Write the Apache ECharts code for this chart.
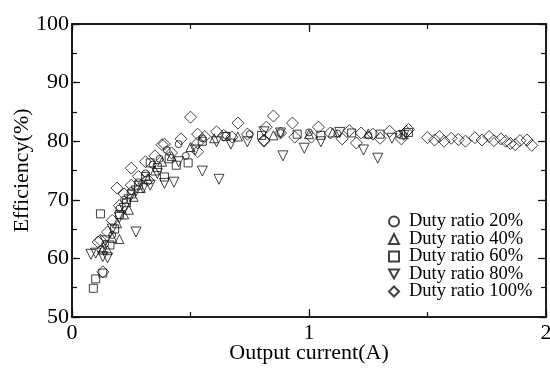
<!DOCTYPE html>
<html>
<head>
<meta charset="utf-8">
<script src="https://cdn.jsdelivr.net/npm/echarts@6/dist/echarts.min.js"></script>
<style>
html, body { margin: 0; padding: 0; background: #fff; }
#chart { width: 550px; height: 368px; }
</style>
</head>
<body>
<div id="chart"></div>
<script>
var seriesNames = ['Duty ratio 20%', 'Duty ratio 40%', 'Duty ratio 60%', 'Duty ratio 80%', 'Duty ratio 100%'];

var duty20 = [[0.12,61.5],[0.14,62.5],[0.17,64],[0.2,68.5],[0.22,70],[0.25,71.5],[0.28,73],[0.31,74.5],
    [0.34,76],[0.37,77],[0.4,78.5],[0.45,79.5],[0.48,77.5],[0.55,80.5],[0.65,81],[0.75,81.2],[0.88,81.4],
    [1.0,81.5],[1.12,81.3],[1.25,81],[1.38,81.2]];

var duty40 = [[0.13,61.5],[0.15,61.4],[0.17,63.5],[0.2,63.3],[0.19,66],[0.22,67.5],[0.24,68.3],[0.26,70.5],
    [0.29,72],[0.32,73.5],[0.35,75],[0.38,76.5],[0.42,77.5],[0.5,79],[0.6,80.5],[0.7,80.8],[0.85,81],
    [1.0,81.2],[1.1,81.5],[1.25,81.3],[1.4,81.2]];

var duty60 = [[0.09,54.9],[0.1,56.5],[0.12,67.6],[0.13,57.5],[0.16,62.3],[0.18,65],[0.2,67.5],[0.23,69.5],
    [0.25,71],[0.28,72.5],[0.31,74],[0.33,76.3],[0.36,75.5],[0.39,73.9],[0.41,77],[0.44,75.9],[0.49,76.3],
    [0.55,80],[0.65,80.8],[0.8,81],[0.95,81.2],[1.05,81],[1.18,81.4],[1.3,81.2],[1.42,81.5]];

var duty80 = [[0.08,60.7],[0.1,60.9],[0.13,60.3],[0.15,60.1],[0.14,63],[0.17,65],[0.2,67],[0.22,68.5],
    [0.24,70],[0.27,64.5],[0.27,71.5],[0.3,72],[0.33,72.5],[0.36,74.5],[0.39,72.8],[0.43,73],[0.45,76.5],
    [0.52,78.5],[0.55,74.9],[0.61,79.9],[0.62,73.5],[0.67,79.5],[0.74,79.9],[0.81,81.6],[0.89,77.5],
    [0.88,81.4],[0.98,78.8],[1.05,79.9],[1.13,81.5],[1.23,78.5],[1.29,77.1],[1.35,80.5],[1.4,81]];

var duty100 = [[0.11,62.8],[0.13,57.7],[0.12,63.1],[0.15,64.5],[0.17,66.5],[0.19,72],[0.2,69],[0.22,71],
    [0.25,75.4],[0.25,72.5],[0.28,74],[0.32,73.4],[0.31,76.5],[0.35,77.5],[0.38,79.4],[0.39,79.5],[0.42,78],
    [0.46,80.4],[0.5,84.1],[0.53,81.2],[0.53,79.7],[0.53,78.2],[0.56,80.8],[0.61,81.6],[0.64,81],[0.675,80.7],
    [0.7,83.1],[0.74,81.2],[0.81,80.2],[0.82,82.4],[0.81,80.0],[0.85,84.3],[0.88,81.4],[0.93,83.1],[0.94,80.7],
    [1.01,80.7],[1.04,82.4],[1.09,81.4],[1.14,80.4],[1.17,81.8],[1.2,79.7],[1.22,81.4],[1.27,81.2],[1.3,80.5],
    [1.34,81.7],[1.39,80.4],[1.41,81.6],[1.42,82],[1.5,80.6],[1.53,80.2],[1.55,80.8],[1.57,80.0],[1.6,80.5],
    [1.63,80.3],[1.66,80.0],[1.7,80.6],[1.73,80.2],[1.76,80.8],[1.78,80.1],[1.81,80.4],[1.83,80.0],[1.85,79.6],
    [1.87,79.4],[1.89,80.1],[1.92,80.2],[1.94,79.3]];

var font = 'Liberation Serif';
var ink = '#111';

function scatter(name, data, symbol, size, rotate) {
    return {
        name: name,
        type: 'scatter',
        data: data,
        symbol: symbol,
        symbolSize: size,
        symbolRotate: rotate || 0,
        itemStyle: {
            color: 'rgba(0,0,0,0)',
            borderColor: ink,
            borderWidth: 1
        },
        emphasis: { disabled: true }
    };
}

// one axis = one set of inward ticks; labels only on the main ones
function axis(min, max, interval, position, tickLen, extra) {
    var a = {
        type: 'value', min: min, max: max, interval: interval, position: position,
        axisLine: { show: true, onZero: false, lineStyle: { color: ink, width: 1.5 } },
        axisTick: { show: true, inside: true, length: tickLen, lineStyle: { color: ink, width: 1.2 } },
        splitLine: { show: false },
        axisLabel: { show: false }
    };
    for (var k in extra) a[k] = extra[k];
    return a;
}

var nameStyle = { color: '#000', fontFamily: font, fontSize: 22 };

var myChart = echarts.init(document.getElementById('chart'));
option = {
    animation: false,
    grid: { left: 72, right: 4, top: 24, bottom: 51, outerBoundsMode: 'none' },
    legend: {
        orient: 'vertical',
        left: 383,
        top: 207,
        itemWidth: 10,
        itemHeight: 10,
        itemGap: -1.5,
        data: [
            { name: seriesNames[0], icon: 'circle' },
            { name: seriesNames[1], icon: 'triangle' },
            { name: seriesNames[2], icon: 'rect' },
            { name: seriesNames[3], icon: 'path://M0,0 L10,0 L5,9 Z' },
            { name: seriesNames[4], icon: 'diamond' }
        ],
        textStyle: { color: '#000', fontFamily: font, fontSize: 18.5, lineHeight: 18, padding: [0, 0, 0, 5] }
    },
    xAxis: [
        axis(0, 2, 1, 'bottom', 8, {
            name: 'Output current(A)', nameLocation: 'middle', nameGap: 25, nameMoveOverlap: false,
            nameTextStyle: nameStyle,
            axisLabel: { show: true, color: '#000', fontFamily: font, fontSize: 22, margin: 5 }
        }),
        axis(0, 2, 1, 'top', 8),
        axis(0, 2, 0.5, 'bottom', 5),
        axis(0, 2, 0.5, 'top', 5)
    ],
    yAxis: [
        axis(50, 100, 10, 'left', 8, {
            name: 'Efficiency(%)', nameLocation: 'middle', nameGap: 39, nameMoveOverlap: false,
            nameTextStyle: nameStyle,
            axisLabel: { show: true, color: '#000', fontFamily: font, fontSize: 22, margin: 3 }
        }),
        axis(50, 100, 10, 'right', 8),
        axis(50, 100, 5, 'left', 5),
        axis(50, 100, 5, 'right', 5)
    ],
    series: [
        scatter(seriesNames[0], duty20, 'circle', 7),
        scatter(seriesNames[1], duty40, 'triangle', 9),
        scatter(seriesNames[2], duty60, 'rect', 8),
        scatter(seriesNames[3], duty80, 'triangle', 10, 180),
        scatter(seriesNames[4], duty100, 'diamond', 12)
    ]
};

myChart.setOption(option);

window.onresize = function() {
    myChart.resize();
}
</script>
</body>
</html>
